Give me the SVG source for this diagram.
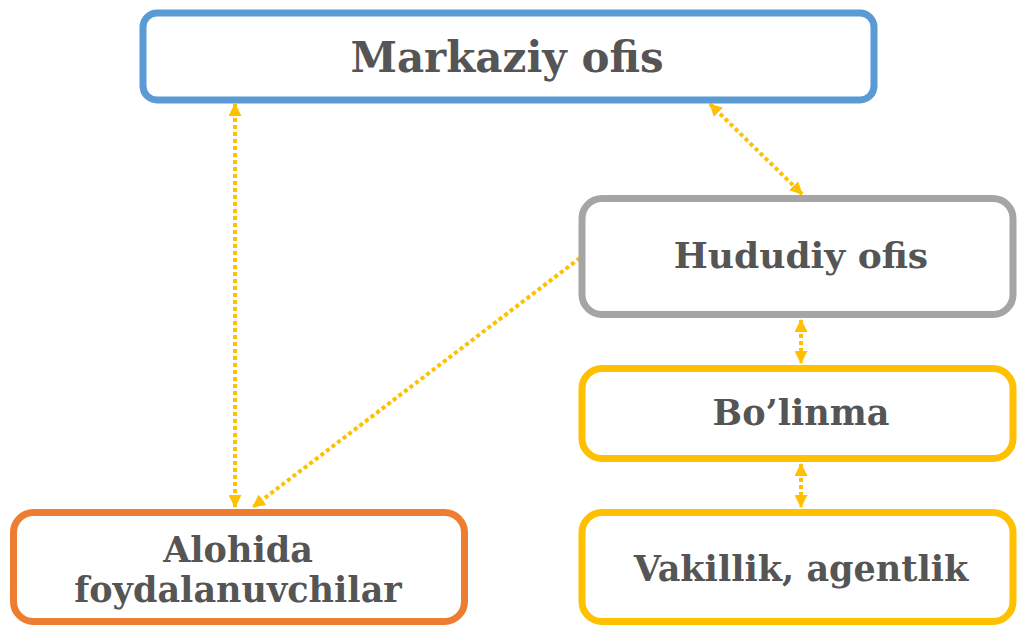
<svg xmlns="http://www.w3.org/2000/svg" width="1018" height="627" viewBox="0 0 1018 627">
<defs>
<style>
.box{fill:#fff;stroke-width:7}
.t{font-family:"DejaVu Serif","Liberation Serif",serif;font-weight:bold;fill:#555555;text-anchor:middle}
.c{fill:none;stroke:#FFC000;stroke-width:4;stroke-dasharray:4 3}
</style>
<marker id="ah" viewBox="0 0 12 12" refX="11" refY="6" markerWidth="13" markerHeight="13" markerUnits="userSpaceOnUse" orient="auto-start-reverse">
<path d="M0,0 L12,6 L0,12 Z" fill="#FFC000"/>
</marker>
</defs>
<rect width="1018" height="627" fill="#fff"/>
<g id="connectors">
<line class="c" x1="235" y1="104" x2="235" y2="507" marker-start="url(#ah)" marker-end="url(#ah)"/>
<line class="c" x1="710" y1="104" x2="802" y2="194" marker-start="url(#ah)" marker-end="url(#ah)"/>
<line class="c" x1="580" y1="258" x2="253" y2="507" marker-end="url(#ah)"/>
<line class="c" x1="801" y1="320" x2="801" y2="363" marker-start="url(#ah)" marker-end="url(#ah)"/>
<line class="c" x1="801" y1="464" x2="801" y2="507" marker-start="url(#ah)" marker-end="url(#ah)"/>
</g>
<g id="markaziy">
<rect class="box" x="143" y="13" width="731" height="87" rx="14" stroke="#5B9BD5"/>
<text class="t" x="507" y="72" font-size="42">Markaziy ofis</text>
</g>
<g id="hududiy">
<rect class="box" x="582" y="198.5" width="431" height="116" rx="20" stroke="#A5A5A5"/>
<text class="t" x="801" y="268" font-size="36">Hududiy ofis</text>
</g>
<g id="bolinma">
<rect class="box" x="582" y="368.5" width="431" height="90" rx="20" stroke="#FFC000"/>
<text class="t" x="801" y="425" font-size="35">Bo’linma</text>
</g>
<g id="vakillik">
<rect class="box" x="582" y="512.5" width="431" height="109" rx="20" stroke="#FFC000"/>
<text class="t" x="801" y="581" font-size="35">Vakillik, agentlik</text>
</g>
<g id="alohida">
<rect class="box" x="13.5" y="512.5" width="451" height="109" rx="20" stroke="#ED7D31"/>
<text class="t" x="238" y="562" font-size="35">Alohida</text>
<text class="t" x="238" y="602" font-size="35">foydalanuvchilar</text>
</g>
</svg>
